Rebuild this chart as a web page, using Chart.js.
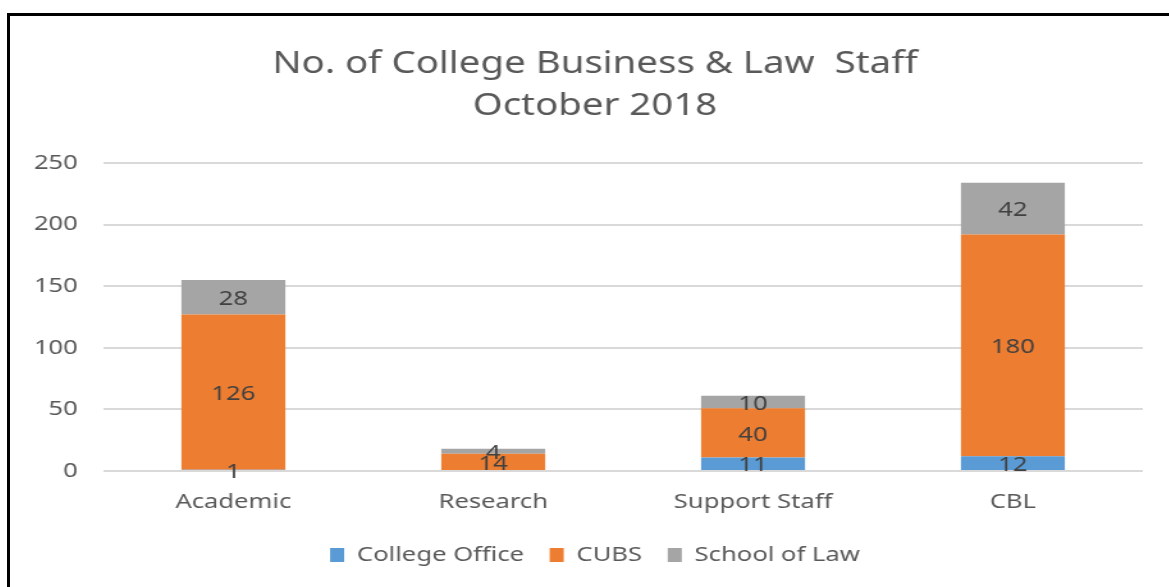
<!DOCTYPE html>
<html>
<head>
<meta charset="utf-8">
<script src="https://cdn.jsdelivr.net/npm/chart.js@4.4.1/dist/chart.umd.min.js"></script>
<style>
  body { margin: 0; background: #fff; overflow: hidden; }
  #frame { position: absolute; left: 7px; top: 13px; width: 1180px; height: 600px; border-left: 3px solid #000; border-top: 3px solid #000; }
  /* the source picture is stretched sideways, so the chart is drawn narrow and widened */
  #wrap { position: absolute; left: 10px; top: 16px; width: 905px; height: 571px; transform: scaleX(1.28); transform-origin: 0 0; }
</style>
</head>
<body>
<div id="frame"></div>
<div id="wrap"><canvas id="staffChart"></canvas></div>
<script>
const categories = ["Academic", "Research", "Support Staff", "CBL"];
const collegeOffice = [1, null, 11, 12];
const cubs = [126, 14, 40, 180];
const schoolOfLaw = [28, 4, 10, 42];
const yTicks = [0, 50, 100, 150, 200, 250];

const FONT = "'Noto Sans', sans-serif";

// draws each value in the middle of its bar segment
const segmentLabels = {
  id: "segmentLabels",
  afterDatasetsDraw(chart) {
    const ctx = chart.ctx;
    ctx.save();
    ctx.font = "20px " + FONT;
    ctx.fillStyle = "#404040";
    ctx.textAlign = "center";
    ctx.textBaseline = "middle";
    chart.data.datasets.forEach((ds, i) => {
      chart.getDatasetMeta(i).data.forEach((bar, j) => {
        const v = ds.data[j];
        if (v === null || v === undefined) return;
        const p = bar.getProps(["x", "y", "base"], true);
        ctx.fillText(String(v), p.x, (p.y + p.base) / 2 + 2);
      });
    });
    ctx.restore();
  },
};

new Chart(document.querySelector("#staffChart"), {
  type: "bar",
  data: {
    labels: categories,
    datasets: [
      { label: "College Office", data: collegeOffice, backgroundColor: "#5B9BD5" },
      { label: "CUBS", data: cubs, backgroundColor: "#ED7D31" },
      { label: "School of Law", data: schoolOfLaw, backgroundColor: "#A5A5A5" },
    ],
  },
  plugins: [segmentLabels],
  options: {
    responsive: true,
    maintainAspectRatio: false,
    animation: false,
    categoryPercentage: 1,
    barPercentage: 0.4,
    layout: { padding: { left: 9, right: 0, top: 0, bottom: 12 } },
    scales: {
      x: {
        stacked: true,
        grid: { display: false },
        border: { display: false },
        ticks: { color: "#595959", font: { family: FONT, size: 20 }, padding: 11 },
      },
      y: {
        stacked: true,
        min: 0,
        max: 250,
        afterBuildTicks: (scale) => { scale.ticks = yTicks.map((v) => ({ value: v })); },
        afterFit: (scale) => { scale.width = 64; },
        grid: { color: "#D9D9D9", lineWidth: 2, drawTicks: false },
        border: { display: false },
        ticks: { color: "#595959", font: { family: FONT, size: 20 }, padding: 20 },
      },
      // empty spacer on the right so the plot stops short of the edge
      spacer: {
        type: "linear",
        position: "right",
        grid: { display: false },
        border: { display: false },
        ticks: { display: false },
        afterFit: (scale) => { scale.width = 20; },
      },
    },
    plugins: {
      title: {
        display: true,
        text: ["No. of College Business & Law  Staff", "October 2018"],
        color: "#595959",
        font: { family: FONT, size: 30, weight: "normal", lineHeight: 1.4 },
        padding: { top: 27, bottom: 36 },
      },
      legend: {
        position: "bottom",
        labels: {
          color: "#595959",
          font: { family: FONT, size: 20 },
          boxWidth: 11,
          boxHeight: 14,
          padding: 20,
        },
      },
      tooltip: { enabled: false },
    },
  },
});
</script>
</body>
</html>
